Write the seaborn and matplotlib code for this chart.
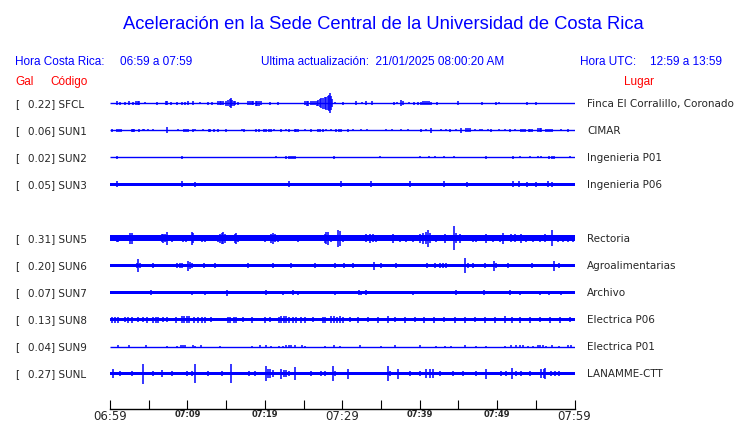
import matplotlib
matplotlib.use("Agg")
import matplotlib.pyplot as plt
import matplotlib.transforms as mtransforms
import seaborn as sns

# stations (SUN4 is not reporting, its slot stays empty)
codes = ['SFCL', 'SUN1', 'SUN2', 'SUN3', 'SUN5', 'SUN6', 'SUN7', 'SUN8', 'SUN9', 'SUNL']
peaks = ['0.22', '0.06', '0.02', '0.05', '0.31', '0.20', '0.07', '0.13', '0.04', '0.27']
places = ['Finca El Corralillo, Coronado', 'CIMAR', 'Ingenieria P01', 'Ingenieria P06',
          'Rectoria', 'Agroalimentarias', 'Archivo', 'Electrica P06', 'Electrica P01',
          'LANAMME-CTT']

# background noise level of each trace (half amplitude, pixels of the plot)
noise = [0.5, 0.5, 0.5, 1.7, 3.0, 1.4, 1.4, 1.7, 0.5, 1.7]

# bursts: (minutes after 06:59, half amplitude in pixels)
sfcl = [(0.86, 2), (1.29, 1.5), (1.94, 1.5), (2.45, 2), (3.01, 1.5), (3.4, 2), (3.57, 2), (3.75, 2),
        (4.52, 1), (6.02, 1.5), (7.2, 2), (7.4, 2), (7.83, 1.5), (8.6, 1.5), (9.25, 1.5), (9.68, 1.5),
        (10.11, 2), (10.75, 2), (11.61, 1), (12.69, 1.5), (13.12, 1.5), (14.0, 2), (14.19, 2), (14.4, 2),
        (14.62, 2), (15.0, 2.5), (15.27, 3), (15.45, 4), (15.61, 5), (15.8, 3), (15.96, 2.5), (16.2, 2),
        (16.56, 1.5), (17.85, 2), (18.1, 2), (18.3, 2), (18.49, 2), (18.8, 2.5), (19.05, 2.5),
        (19.25, 2.5), (19.48, 2), (20.65, 1.5), (21.72, 1.5), (25.16, 2), (25.4, 2.5), (25.59, 2.5),
        (25.9, 2), (26.24, 2), (26.5, 2), (26.7, 2.5), (26.88, 3), (27.1, 4), (27.31, 5), (27.5, 5.5),
        (27.74, 6), (27.95, 6.5), (28.17, 7), (28.3, 8), (28.47, 10), (28.6, 7), (28.73, 4), (29.03, 1),
        (30.11, 1.5), (31.83, 2), (32.6, 1), (33.12, 2), (33.85, 2), (36.69, 1.5), (37.08, 1),
        (37.64, 3), (37.85, 2), (38.62, 1), (39.23, 1.5), (39.79, 1.5), (40.22, 1.5), (40.45, 2),
        (40.65, 2), (40.95, 2), (41.21, 2), (41.51, 1.5), (42.24, 1.5), (44.95, 2), (48.08, 1.5),
        (49.89, 1.5), (50.23, 1), (53.84, 1.5), (55.05, 1.5)]
sun1 = [(0.22, 1.5), (0.86, 1.5), (1.16, 1.5), (1.42, 1.5), (2.8, 1.5), (2.97, 1.5), (3.14, 1.5),
        (3.78, 1.5), (4.21, 1), (4.43, 1), (4.95, 1), (5.59, 1), (7.31, 3), (8.82, 1), (9.55, 1.5),
        (9.76, 1.5), (10.02, 1.5), (10.66, 1.5), (10.97, 1), (12.04, 1), (12.77, 1.5), (12.94, 1.5),
        (13.42, 1.5), (13.89, 1.5), (14.96, 1.5), (16.99, 1), (17.33, 1.5), (18.92, 1.5), (19.22, 1.5),
        (19.91, 1.5), (20.21, 1.5), (20.51, 1.5), (20.86, 1.5), (21.2, 1), (22.15, 1.5), (22.79, 1),
        (23.13, 1.5), (23.87, 1.5), (24.08, 1.5), (24.3, 1.5), (25.16, 1), (26.02, 1.5), (26.88, 1.5),
        (27.18, 1.5), (27.52, 1.5), (27.95, 1), (28.6, 1), (29.24, 1.5), (29.54, 1.5), (29.89, 1.5),
        (30.76, 1.5), (31.4, 1), (32.48, 1), (33.21, 1), (35.7, 1), (36.43, 1), (37.64, 1), (38.5, 1),
        (40.22, 1.5), (40.86, 1), (41.51, 2.5), (42.8, 1), (43.35, 1), (43.87, 1.5), (44.73, 1),
        (45.38, 2.5), (45.93, 2), (46.24, 2), (46.54, 2), (47.1, 1), (47.74, 1), (48.08, 1), (48.82, 1),
        (49.25, 1.5), (50.23, 1), (50.97, 1), (51.7, 1.5), (52.34, 1), (53.03, 1.5), (53.29, 1.5),
        (53.55, 1.5), (54.06, 1.5), (54.28, 1.5), (54.49, 1.5), (55.27, 2), (55.48, 2), (55.7, 2),
        (56.34, 1.5), (56.6, 1.5), (56.86, 1.5), (57.11, 1.5), (58.28, 1), (59.14, 1.5)]
sun2 = [(0.95, 1.5), (9.33, 1.5), (21.5, 1), (22.79, 1.5), (23.09, 1.5), (23.35, 1.5), (23.65, 1.5),
        (23.95, 1.5), (28.9, 1.5), (34.84, 1), (40.0, 1), (41.2, 1), (42.02, 1), (43.14, 1), (44.43, 1),
        (48.6, 1.5), (52.04, 1.5), (52.9, 1), (54.19, 1), (55.27, 1), (55.7, 1), (56.77, 1.5),
        (57.03, 1.5), (57.29, 1.5), (59.44, 1)]
sun3 = [(0.95, 3), (9.33, 3), (10.97, 2.5), (23.13, 3), (29.89, 3), (33.68, 3), (38.71, 3), (43.14, 3),
        (46.11, 2.5), (52.04, 3), (52.81, 3), (53.85, 2.5), (55.05, 2.5), (56.56, 3), (57.11, 2.5)]
sun5 = [(0.86, 3.3), (1.07, 3.3), (1.5, 2.7), (2.58, 5.3), (2.8, 5.3), (4.08, 2.7), (4.73, 2.7),
        (5.16, 2.7), (5.81, 2.7), (6.67, 4), (6.88, 4.7), (7.1, 4), (7.31, 6.7), (7.96, 3.3), (8.82, 2.7),
        (9.46, 3.3), (9.76, 3.3), (10.53, 6.7), (10.75, 5), (11.82, 3.3), (12.25, 3.3), (13.11, 2.7),
        (13.98, 3.5), (14.19, 4.5), (14.41, 5.5), (14.62, 6), (14.83, 4.5), (15.48, 2.7), (16.13, 4.5),
        (16.34, 5.3), (16.56, 3.5), (17.42, 2.7), (18.28, 2.7), (18.92, 2.7), (20.0, 3.3), (20.86, 4.5),
        (21.07, 5.3), (21.29, 4), (21.72, 3.3), (22.58, 2.7), (23.44, 2.7), (24.3, 3.3), (25.16, 2.7),
        (26.02, 2.7), (26.88, 2.7), (27.74, 4.5), (27.95, 6), (28.17, 6.7), (28.6, 3.3), (29.46, 8.7),
        (29.77, 7.3), (30.11, 3.3), (31.83, 2.7), (33.12, 4), (33.55, 4.7), (33.98, 4), (34.41, 3.3),
        (35.27, 2.7), (36.13, 2.7), (36.56, 4.5), (37.42, 3.3), (38.28, 3.3), (39.14, 3.3), (40.0, 4.5),
        (40.43, 5.5), (40.77, 6), (41.08, 8.7), (41.29, 5), (42.15, 3.3), (43.23, 4.5), (44.39, 12),
        (44.73, 5), (45.16, 4.5), (46.02, 2.7), (46.88, 3.3), (47.31, 3.3), (48.6, 4.5), (49.46, 3.3),
        (50.32, 3.3), (50.75, 5.3), (51.83, 4), (52.26, 4), (53.12, 4.5), (53.76, 3.3), (54.62, 3.3),
        (55.48, 3.3), (56.13, 4), (57.11, 8), (57.85, 3.3), (58.49, 3.3), (59.14, 3.3), (59.78, 3.3)]
sun6 = [(3.44, 2.5), (3.66, 6.7), (3.87, 2.5), (5.59, 2.5), (8.6, 2.5), (9.03, 2.5), (9.25, 2),
        (10.11, 5), (10.32, 3.5), (10.53, 3), (12.17, 2.5), (13.55, 2), (17.85, 2), (21.07, 2.5),
        (23.44, 3), (26.45, 2.5), (29.03, 2), (30.2, 2.5), (31.4, 2), (34.11, 4), (35.06, 2), (36.9, 2),
        (40.95, 2.5), (41.94, 2.5), (42.67, 2.5), (43.01, 2.5), (43.44, 2.5), (45.81, 8), (46.24, 2.5),
        (46.88, 2.5), (48.39, 2), (49.59, 5), (49.89, 3), (51.4, 2), (54.53, 3), (57.33, 5), (58.06, 2.5)]
sun7 = [(5.25, 2.5), (10.53, 2), (12.25, 2), (14.19, 1.8), (15.05, 3), (20.21, 2.5), (22.36, 2),
        (23.65, 2.5), (24.3, 2), (29.03, 2), (32.17, 2.5), (32.48, 2), (33.12, 2.5), (39.14, 2),
        (44.64, 2.5), (48.26, 2.5), (51.61, 2.5), (52.9, 2), (55.48, 2), (56.77, 2), (58.28, 2)]
sun8 = [(0.22, 3), (0.65, 3), (1.07, 3), (1.94, 2.5), (2.37, 3), (2.8, 3), (3.66, 2.5), (4.3, 2.5),
        (4.73, 3), (5.59, 3), (5.89, 3), (6.24, 3), (6.88, 2.5), (7.31, 2.5), (8.47, 3), (9.25, 3.5),
        (9.59, 3.5), (9.89, 3.5), (10.19, 3.5), (10.88, 3), (11.31, 3), (11.82, 3), (12.25, 3),
        (13.11, 2.5), (15.18, 3), (15.48, 3), (16.04, 3), (16.34, 3), (17.2, 2.5), (18.28, 3), (20.0, 3),
        (20.64, 2.5), (21.8, 3), (22.15, 3.5), (22.49, 3.5), (22.79, 3.5), (23.09, 3), (23.65, 3),
        (24.08, 3), (24.72, 3), (25.16, 3), (26.23, 2.5), (27.52, 3), (27.82, 3), (28.6, 3.5),
        (28.94, 3.5), (29.33, 3), (29.67, 3.5), (30.06, 3), (30.97, 2.5), (32.0, 3), (33.3, 2.5),
        (34.6, 3), (35.9, 3.5), (36.8, 2.5), (38.1, 3), (39.4, 2.5), (40.6, 3), (41.9, 3), (43.2, 2.5),
        (44.5, 3), (45.8, 3), (47.1, 2.5), (48.4, 3), (49.7, 3), (51.0, 3.5), (51.9, 3), (52.9, 3),
        (54.2, 3), (55.5, 2.5), (56.8, 3), (58.1, 3), (59.4, 2.5)]
sun9 = [(1.0, 1.5), (2.49, 1.5), (4.6, 1.5), (7.4, 1), (8.6, 1), (9.16, 1.5), (9.42, 1.5), (9.68, 1.5),
        (10.66, 1.5), (10.97, 1), (11.7, 1.5), (14.19, 1), (18.4, 1), (19.35, 1.5), (20.12, 1.5),
        (20.86, 1), (21.8, 1), (22.36, 1), (22.79, 1.5), (23.09, 1.5), (23.44, 1.5), (23.95, 1.5),
        (24.85, 1.5), (25.16, 1), (27.74, 1), (28.9, 1.5), (29.67, 1), (32.3, 1.5), (35.06, 1),
        (36.78, 1.5), (40.0, 1.5), (42.15, 1), (43.23, 1), (44.09, 1), (45.81, 1.5), (47.31, 1),
        (48.6, 1), (50.97, 1), (51.83, 1.5), (52.47, 1.5), (52.9, 1.5), (53.33, 1.5), (53.98, 1),
        (54.62, 1), (55.27, 1.5), (55.57, 1.5), (55.91, 1.5), (56.34, 1), (57.11, 1.5), (58.06, 1),
        (59.14, 1.5), (59.57, 1.5)]
sunl = [(0.43, 4.3), (1.29, 2.5), (2.8, 2), (4.3, 10), (5.59, 2), (6.67, 3.5), (7.96, 2), (9.89, 2.5),
        (10.53, 2.5), (11.01, 9.5), (12.69, 2), (14.41, 2.5), (15.61, 9), (17.93, 2), (18.71, 2),
        (20.12, 8), (20.43, 4), (20.73, 4), (21.07, 3.5), (22.15, 5), (22.45, 3.5), (22.79, 3.5),
        (23.09, 3), (23.87, 6.7), (26.02, 2.5), (27.31, 3), (27.74, 2.5), (28.85, 7), (29.11, 3),
        (30.7, 5), (35.92, 7), (36.22, 3), (37.21, 5), (38.71, 2), (40.0, 3), (40.86, 4), (41.29, 4),
        (41.72, 4), (42.58, 3), (44.3, 2), (45.59, 2), (47.22, 3), (48.6, 5), (50.54, 2), (51.18, 2.5),
        (51.95, 6), (52.47, 3), (53.12, 3), (54.19, 2), (55.7, 4), (56.0, 4), (56.25, 6), (56.99, 3),
        (57.42, 3), (58.06, 2.5)]
bursts = [sfcl, sun1, sun2, sun3, sun5, sun6, sun7, sun8, sun9, sunl]

tick_labels = ['06:59', '', '07:09', '', '07:19', '', '07:29', '', '07:39', '', '07:49', '', '07:59']

BLUE = '#0000ff'
RED = '#ff0000'
W, H = 740, 423
ROW_PX = 27.0

sns.set_theme(style="white")
plt.rcParams['font.family'] = ['DejaVu Sans']

fig = plt.figure(figsize=(W / 100, H / 100), dpi=100)
ax = fig.add_axes([110 / W, 1 - 409 / H, 464.5 / W, 321 / H])
ax.set_xlim(0, 60)
ax.set_ylim((409 - 103.5) / ROW_PX, (88 - 103.5) / ROW_PX)

rows = [i if i < 4 else i + 1 for i in range(len(codes))]
for row, nz, ev in zip(rows, noise, bursts):
    if nz <= 0.6:
        ax.hlines(row, 0, 60, color=BLUE, lw=1.0)
    else:
        h = nz / ROW_PX
        ax.fill_between([0, 60], row - h, row + h, color=BLUE, lw=0)
    t = [e[0] for e in ev]
    a = [e[1] / ROW_PX for e in ev]
    ax.vlines(t, [row - v for v in a], [row + v for v in a], color=BLUE, lw=1.1)

# time axis
for s in ['top', 'left', 'right']:
    ax.spines[s].set_visible(False)
ax.spines['bottom'].set_color('black')
ax.spines['bottom'].set_linewidth(1.0)
ax.set_yticks([])
ax.set_xticks(range(0, 61, 5))
ax.set_xticklabels(tick_labels)
ax.tick_params(axis='x', bottom=True, direction='in', length=6.5, width=0.8, color='black', pad=1)
for i, lab in enumerate(ax.get_xticklabels()):
    if i % 6 == 0:
        lab.set_fontsize(8.5)
    else:
        lab.set_fontsize(6)
        lab.set_fontweight('bold')

# station labels
lab_tr = mtransforms.blended_transform_factory(fig.transFigure, ax.transData)
cap = 3.8 / ROW_PX
for row, c, p, pl in zip(rows, codes, peaks, places):
    ax.text(15 / W, row + cap, '[', transform=lab_tr, fontsize=7.5, va='baseline')
    ax.text(27.5 / W, row + cap, f'{p}] {c}', transform=lab_tr, fontsize=7.5, va='baseline')
    ax.text(587 / W, row + cap, pl, transform=lab_tr, fontsize=7.5, va='baseline')

# header
hf = 'Liberation Sans'
fig.text(383 / W, 1 - 29 / H, 'Aceleración en la Sede Central de la Universidad de Costa Rica',
         ha='center', va='baseline', color=BLUE, fontsize=13.2, family=hf)
fig.text(15 / W, 1 - 65 / H, 'Hora Costa Rica:', color=BLUE, fontsize=8.5, family=hf, va='baseline')
fig.text(120 / W, 1 - 65 / H, '06:59 a 07:59', color=BLUE, fontsize=8.5, family=hf, va='baseline')
fig.text(261 / W, 1 - 65 / H, 'Ultima actualización:  21/01/2025 08:00:20 AM', color=BLUE,
         fontsize=8.5, family=hf, va='baseline')
fig.text(580 / W, 1 - 65 / H, 'Hora UTC:', color=BLUE, fontsize=8.5, family=hf, va='baseline')
fig.text(650 / W, 1 - 65 / H, '12:59 a 13:59', color=BLUE, fontsize=8.5, family=hf, va='baseline')
fig.text(15 / W, 1 - 85 / H, 'Gal', color=RED, fontsize=8.5, family=hf, va='baseline')
fig.text(50 / W, 1 - 85 / H, 'Código', color=RED, fontsize=8.5, family=hf, va='baseline')
fig.text(624 / W, 1 - 85 / H, 'Lugar', color=RED, fontsize=8.5, family=hf, va='baseline')

fig.savefig('out.png', dpi=100, facecolor='white')
